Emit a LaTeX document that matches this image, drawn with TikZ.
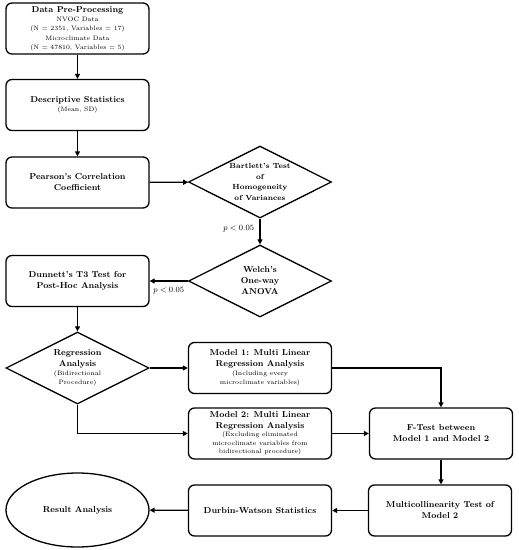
\documentclass[tikz,border=0pt]{standalone}
\usetikzlibrary{shapes.geometric,arrows.meta}
\begin{document}
\begin{tikzpicture}[x=1pt,y=-1pt,
  box/.style={draw, rounded corners=6pt, line width=1.3pt, minimum width=143pt, minimum height=51pt, align=center, inner sep=1pt},
  diam/.style={draw, diamond, line width=1.3pt, minimum width=143pt, minimum height=72pt, align=center, inner sep=0pt, aspect=2},
  ell/.style={draw, ellipse, line width=1.3pt, minimum width=143pt, minimum height=74pt, align=center, inner sep=0pt},
  arr/.style={line width=1.3pt, -{Triangle[length=5pt,width=5pt]}},
  tf/.style={font=\fontsize{8.6}{11}\selectfont\bfseries},
  lab/.style={font=\fontsize{7.8}{9}\selectfont}]
\newcommand{\sm}{\fontsize{6.4}{8.5}\selectfont\mdseries}
\useasboundingbox (0,0) rectangle (519,550);
\node[box, tf] (pre) at (77.5,28.5) {Data Pre-Processing\\[-1.5pt]{\sm NVOC Data}\\[-1.8pt]{\sm (N = 2351, Variables = 17)}\\[-1.8pt]{\sm Microclimate Data}\\[-1.8pt]{\sm (N = 47810, Variables = 5)}};
\node[box, tf] (desc) at (77.5,105) {Descriptive Statistics\\[-2pt]{\sm (Mean, SD)}};
\node[box, tf] (pear) at (77.5,182.5) {Pearson's Correlation\\Coefficient};
\node[diam, font=\fontsize{7.4}{10.6}\selectfont\bfseries] (bart) at (260,182) {Bartlett's Test\\of\\Homogeneity\\of Variances};
\node[diam, tf] (welch) at (260,281) {Welch's\\One-way\\ANOVA};
\node[box, tf] (dun) at (77.5,281) {Dunnett's T3 Test for\\Post-Hoc Analysis};
\node[diam, tf] (reg) at (77.5,368) {Regression\\Analysis\\[-2pt]{\sm (Bidirectional}\\[-2pt]{\sm Procedure)}};
\node[box, tf] (m1) at (260,368) {Model 1: Multi Linear\\Regression Analysis\\[-2pt]{\sm (Including every}\\[-2pt]{\sm microclimate variables)}};
\node[box, tf] (m2) at (260,433.5) {Model 2: Multi Linear\\Regression Analysis\\[-2.5pt]{\sm (Excluding eliminated}\\[-2.5pt]{\sm microclimate variables from}\\[-2.5pt]{\sm bidirectional procedure)}};
\node[box, tf] (ft) at (441,433.5) {F-Test between\\Model 1 and Model 2};
\node[box, tf] (mc) at (440,510.5) {Multicollinearity Test of\\Model 2};
\node[box, tf] (dw) at (260,510.5) {Durbin-Watson Statistics};
\node[ell, tf] (res) at (77.5,510) {Result Analysis};
\draw[arr] (pre) -- (desc);
\draw[arr] (desc) -- (pear);
\draw[arr] (pear) -- (bart);
\draw[arr] (bart) -- node[lab, left, xshift=-2pt, pos=0.4] (p1) {$p<0.05$} (welch);
\draw[arr] (welch) -- node[lab, below, yshift=-2pt] (p2) {$p<0.05$} (dun);
\draw[arr] (dun) -- (reg);
\draw[arr] (reg) -- (m1);
\draw[arr] (reg.south) |- (m2.west);
\draw[arr] (m1.east) -| (ft.north);
\draw[arr] (m2) -- (ft);
\draw[arr] (ft.south) -- (ft.south |- mc.north);
\draw[arr] (mc) -- (dw);
\draw[arr] (dw) -- (res);
\end{tikzpicture}
\end{document}
